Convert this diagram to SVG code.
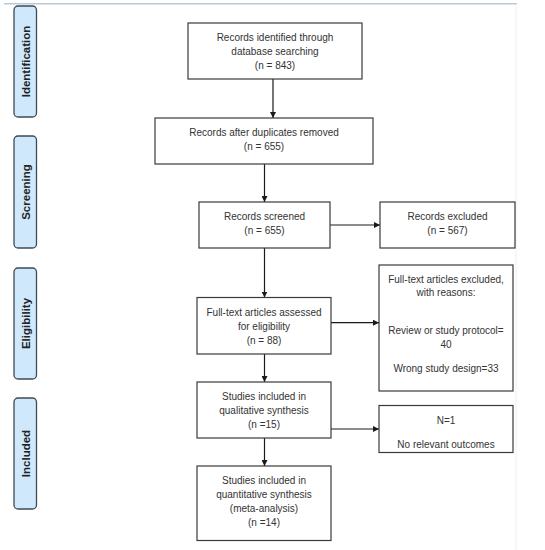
<svg xmlns="http://www.w3.org/2000/svg" width="545" height="550" viewBox="0 0 545 550">
<style>
.box{fill:#fff;stroke:#3a3a3a;stroke-width:1.2}
.side{fill:#cfe8fb;stroke:#3d4b55;stroke-width:1.3}
.t{font-family:"Liberation Sans",Arial,sans-serif;font-size:10px;fill:#333;text-anchor:middle}
.s{font-family:"Liberation Sans",Arial,sans-serif;font-size:11.5px;font-weight:bold;fill:#222;text-anchor:middle}
.c{stroke:#1a1a1a;stroke-width:1.2;fill:none;marker-end:url(#a)}
</style>
<defs>
<marker id="a" viewBox="0 0 10 10" refX="10" refY="5" markerWidth="6" markerHeight="6" orient="auto" markerUnits="userSpaceOnUse">
<path d="M0,0 L10,5 L0,10 z" fill="#1a1a1a"/>
</marker>
</defs>
<rect width="545" height="550" fill="#fff"/>
<line x1="4" y1="3.7" x2="517" y2="3.7" stroke="#b9c9d5" stroke-width="1.5"/>
<line x1="516" y1="4" x2="516" y2="550" stroke="#f0f0f0" stroke-width="1"/>
<g id="side-identification"><rect class="side" x="14" y="6" width="22.5" height="111" rx="4"/><text class="s" transform="translate(29.5,61.5) rotate(-90)">Identification</text></g>
<g id="side-screening"><rect class="side" x="14" y="136" width="22.5" height="112" rx="4"/><text class="s" transform="translate(29.5,192) rotate(-90)">Screening</text></g>
<g id="side-eligibility"><rect class="side" x="14" y="268" width="22.5" height="111" rx="4"/><text class="s" transform="translate(29.5,323.5) rotate(-90)">Eligibility</text></g>
<g id="side-included"><rect class="side" x="14" y="398" width="22.5" height="111" rx="4"/><text class="s" transform="translate(29.5,453.5) rotate(-90)">Included</text></g>
<g id="connectors">
<line class="c" x1="273" y1="79" x2="273" y2="118"/>
<line class="c" x1="264.5" y1="164" x2="264.5" y2="202"/>
<line class="c" x1="330" y1="225" x2="380" y2="225"/>
<line class="c" x1="264.5" y1="248" x2="264.5" y2="297.5"/>
<line class="c" x1="331" y1="322.7" x2="379" y2="322.7"/>
<line class="c" x1="264.5" y1="354" x2="264.5" y2="382"/>
<line class="c" x1="329" y1="429" x2="379" y2="429"/>
<line class="c" x1="264.5" y1="438" x2="264.5" y2="466"/>
</g>
<g id="n1"><rect class="box" x="188" y="23" width="174" height="56"/>
<text class="t" x="275" y="40.5">Records identified through</text><text class="t" x="275" y="54.5">database searching</text><text class="t" x="275" y="68.5">(n = 843)</text></g>
<g id="n2"><rect class="box" x="155" y="118" width="218" height="46"/>
<text class="t" x="264" y="135.5">Records after duplicates removed</text><text class="t" x="264" y="149.5">(n = 655)</text></g>
<g id="n3"><rect class="box" x="199" y="202" width="131" height="46"/>
<text class="t" x="264.5" y="219.5">Records screened</text><text class="t" x="264.5" y="233.5">(n = 655)</text></g>
<g id="n4"><rect class="box" x="380" y="202" width="135" height="46"/>
<text class="t" x="447.5" y="219.5">Records excluded</text><text class="t" x="447.5" y="233.5">(n = 567)</text></g>
<g id="n5"><rect class="box" x="379" y="265" width="134" height="126"/>
<text class="t" x="446" y="282.5">Full-text articles excluded,</text><text class="t" x="446" y="296">with reasons:</text>
<text class="t" x="446" y="334">Review or study protocol=</text><text class="t" x="446" y="347.5">40</text>
<text class="t" x="446" y="372">Wrong study design=33</text></g>
<g id="n6"><rect class="box" x="197" y="297.5" width="134" height="56.5"/>
<text class="t" x="264" y="315.5">Full-text articles assessed</text><text class="t" x="264" y="329.5">for eligibility</text><text class="t" x="264" y="343.5">(n = 88)</text></g>
<g id="n7"><rect class="box" x="197" y="382" width="134" height="56"/>
<text class="t" x="264" y="400">Studies included in</text><text class="t" x="264" y="414">qualitative synthesis</text><text class="t" x="264" y="427.5">(n =15)</text></g>
<g id="n8"><rect class="box" x="379" y="405.5" width="134" height="47"/>
<text class="t" x="446" y="423.5">N=1</text><text class="t" x="446" y="447.5">No relevant outcomes</text></g>
<g id="n9"><rect class="box" x="197" y="466" width="134" height="74.5"/>
<text class="t" x="264" y="484">Studies included in</text><text class="t" x="264" y="498">quantitative synthesis</text><text class="t" x="264" y="511.5">(meta-analysis)</text><text class="t" x="264" y="525.5">(n =14)</text></g>
</svg>
